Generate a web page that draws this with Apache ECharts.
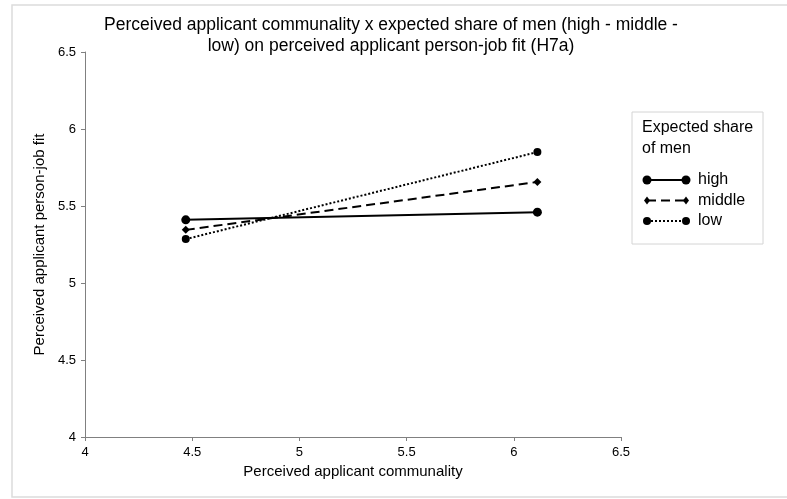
<!DOCTYPE html>
<html>
<head>
<meta charset="utf-8">
<script src="https://cdn.jsdelivr.net/npm/echarts@6/dist/echarts.min.js"></script>
<style>
  html, body { margin: 0; padding: 0; background: #fff; }
  #chart { width: 787px; height: 499px; }
</style>
</head>
<body>
<div id="chart"></div>
<script>
// Simple slopes: communality at low (-1 SD) and high (+1 SD) values
const communality = [4.47, 6.11];
const fitHigh = [5.41, 5.46];
const fitMiddle = [5.345, 5.656];
const fitLow = [5.285, 5.85];
const groupNames = ['high', 'middle', 'low'];
const axisTicks = [4, 4.5, 5, 5.5, 6, 6.5];

const FONT = '"Liberation Sans", Arial, Helvetica, sans-serif';

function pairs(ys) {
  return communality.map((x, i) => [x, ys[i]]);
}

const lineStyles = [
  { type: 'solid', symbol: 'circle', size: 9 },
  { type: [9, 5], symbol: 'diamond', size: 8 },
  { type: [2, 2], symbol: 'circle', size: 8 }
];
const seriesValues = [fitHigh, fitMiddle, fitLow];

const chart = echarts.init(document.getElementById('chart'), null, { renderer: 'canvas' });

const series = seriesValues.map((ys, i) => ({
  name: groupNames[i],
  type: 'line',
  data: pairs(ys),
  symbol: lineStyles[i].symbol,
  symbolSize: lineStyles[i].size,
  showAllSymbol: true,
  animation: false,
  lineStyle: { color: '#000', width: 2, type: lineStyles[i].type },
  itemStyle: { color: '#000' },
  z: 3 - i
}));

// Legend: framed box with a two-line heading and line samples
const legendX = 632, legendY = 112;
const legendGraphics = [
  {
    type: 'rect',
    shape: { x: legendX, y: legendY, width: 131, height: 132 },
    style: { fill: '#fff', stroke: '#d4d4d4', lineWidth: 1 }
  },
  {
    type: 'text',
    style: {
      x: legendX + 10, y: legendY + 5,
      text: 'Expected share\nof men',
      font: '16px ' + FONT, fill: '#000', lineHeight: 21
    }
  }
];
groupNames.forEach((name, i) => {
  const y = legendY + 68 + i * 20.5;
  const st = lineStyles[i];
  const x1 = legendX + 15, x2 = legendX + 54;
  legendGraphics.push({
    type: 'line',
    shape: { x1: x1, y1: y, x2: x2, y2: y },
    style: { stroke: '#000', lineWidth: 2, lineDash: st.type === 'solid' ? null : st.type }
  });
  [x1, x2].forEach(cx => {
    if (st.symbol === 'diamond') {
      legendGraphics.push({
        type: 'polygon',
        shape: { points: [[cx, y - 4], [cx + 3, y], [cx, y + 4], [cx - 3, y]] },
        style: { fill: '#000' }
      });
    } else {
      legendGraphics.push({
        type: 'circle',
        shape: { cx: cx, cy: y, r: i === 0 ? 4.5 : 4 },
        style: { fill: '#000' }
      });
    }
  });
  legendGraphics.push({
    type: 'text',
    style: {
      x: legendX + 66, y: y, text: name,
      font: '16px ' + FONT, fill: '#000', verticalAlign: 'middle'
    }
  });
});

chart.setOption({
  backgroundColor: '#fff',
  animation: false,
  title: {
    text: 'Perceived applicant communality x expected share of men (high - middle -\nlow) on perceived applicant person-job fit (H7a)',
    left: 386,
    top: 10,
    textAlign: 'center',
    textStyle: { fontFamily: FONT, fontSize: 17.5, fontWeight: 'normal', color: '#000', lineHeight: 21 }
  },
  grid: { left: 85, right: 166, top: 52, bottom: 62, containLabel: false },
  xAxis: {
    type: 'value',
    min: axisTicks[0],
    max: axisTicks[axisTicks.length - 1],
    interval: 0.5,
    name: 'Perceived applicant communality',
    nameLocation: 'middle',
    nameGap: 26,
    nameTextStyle: { fontFamily: FONT, fontSize: 15, color: '#000' },
    axisLine: { show: true, lineStyle: { color: '#808080', width: 1 } },
    axisTick: { show: true, length: 4, lineStyle: { color: '#808080' } },
    axisLabel: { fontFamily: FONT, fontSize: 13, color: '#000', margin: 9 },
    splitLine: { show: false }
  },
  yAxis: {
    type: 'value',
    min: axisTicks[0],
    max: axisTicks[axisTicks.length - 1],
    interval: 0.5,
    name: 'Perceived applicant person-job fit',
    nameLocation: 'middle',
    nameGap: 32,
    nameRotate: 90,
    nameTextStyle: { fontFamily: FONT, fontSize: 15, color: '#000' },
    axisLine: { show: true, lineStyle: { color: '#808080', width: 1 } },
    axisTick: { show: true, length: 4, lineStyle: { color: '#808080' } },
    axisLabel: { fontFamily: FONT, fontSize: 13, color: '#000', margin: 9 },
    splitLine: { show: false }
  },
  graphic: [
    {
      type: 'rect',
      shape: { x: 12, y: 5, width: 790, height: 492 },
      style: { fill: 'none', stroke: '#dcdcdc', lineWidth: 1.5 },
      silent: true
    }
  ].concat(legendGraphics),
  series: series
});
</script>
</body>
</html>
